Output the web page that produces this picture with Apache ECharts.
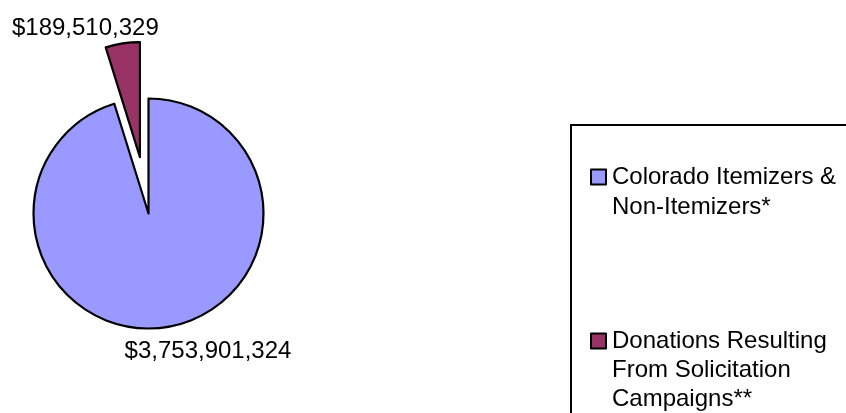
<!DOCTYPE html>
<html>
<head>
    <meta charset="utf-8">
    <title>Colorado donations</title>
    <script src="https://cdn.jsdelivr.net/npm/echarts@6/dist/echarts.min.js"></script>
    <style>
      html, body { margin: 0; padding: 0; background: #fff; }
    </style>
</head>
<body>
    <div id="main" style="width:846px;height:413px;"></div>
    <script type="text/javascript">
      // data
      var categories = ['Colorado Itemizers & Non-Itemizers*', 'Donations Resulting From Solicitation Campaigns**'];
      var amounts = [3753901324, 189510329];
      var colors = ['#9999FF', '#993366'];
      // legend text, broken the way the picture breaks it
      var legendLines = [
        ['Colorado Itemizers &', 'Non-Itemizers*'],
        ['Donations Resulting', 'From Solicitation', 'Campaigns**']
      ];
      // where the value labels sit
      var labelX = [208, 84];
      var labelY = [351, 19];

      var font = '"Liberation Sans", Arial, sans-serif';

      function money(v) {
        return '$' + String(v).replace(/\B(?=(\d{3})+(?!\d))/g, ',');
      }

      var pieData = categories.map(function (c, i) {
        return {
          name: c,
          value: amounts[i],
          selected: i === 1,
          itemStyle: { color: colors[i] }
        };
      });

      // one legend per item so each can sit at its own height.
      // the legend centres text on the icon, so blank lines are put in front
      // to bring the first real line level with the icon
      var iconMid = [177, 341];
      var lineH = [30, 29];
      var legends = categories.map(function (c, i) {
        var n = legendLines[i].length;
        var pad = [];
        for (var k = 0; k < n - 1; k++) pad.push(' ');
        var text = pad.concat(legendLines[i]).join('\n');
        var blockH = (2 * n - 1) * lineH[i];
        return {
          orient: 'vertical',
          left: 590,
          top: iconMid[i] - blockH / 2,
          padding: 0,
          itemWidth: 15,
          itemHeight: 15,
          icon: 'rect',
          selectedMode: false,
          itemStyle: { borderColor: '#000', borderWidth: 2 },
          data: [c],
          formatter: function () { return text; },
          textStyle: {
            fontFamily: font,
            fontSize: 24,
            lineHeight: lineH[i],
            color: '#000',
            padding: [0, 0, 0, 1]
          }
        };
      });

      var echart = echarts.init(document.getElementById('main'));
      var option = {
        animation: false,
        backgroundColor: '#fff',
        legend: legends,
        graphic: [{
          type: 'rect',
          z: -1,
          shape: { x: 571, y: 125, width: 400, height: 400 },
          style: { fill: 'none', stroke: '#000', lineWidth: 2 }
        }],
        series: [{
          type: 'pie',
          center: [148.5, 213.5],
          radius: 115,
          startAngle: 90,
          clockwise: true,
          selectedMode: 'single',
          selectedOffset: 57,
          avoidLabelOverlap: false,
          itemStyle: { borderColor: '#000', borderWidth: 2.2 },
          emphasis: { disabled: true },
          label: {
            show: true,
            position: 'outside',
            fontFamily: font,
            fontSize: 24,
            color: '#000',
            formatter: function (p) { return money(p.value); }
          },
          labelLine: { show: false },
          labelLayout: function (p) {
            return { x: labelX[p.dataIndex], y: labelY[p.dataIndex], align: 'center', verticalAlign: 'middle' };
          },
          data: pieData
        }]
      };
      echart.setOption(option);
    </script>
</body>
</html>
